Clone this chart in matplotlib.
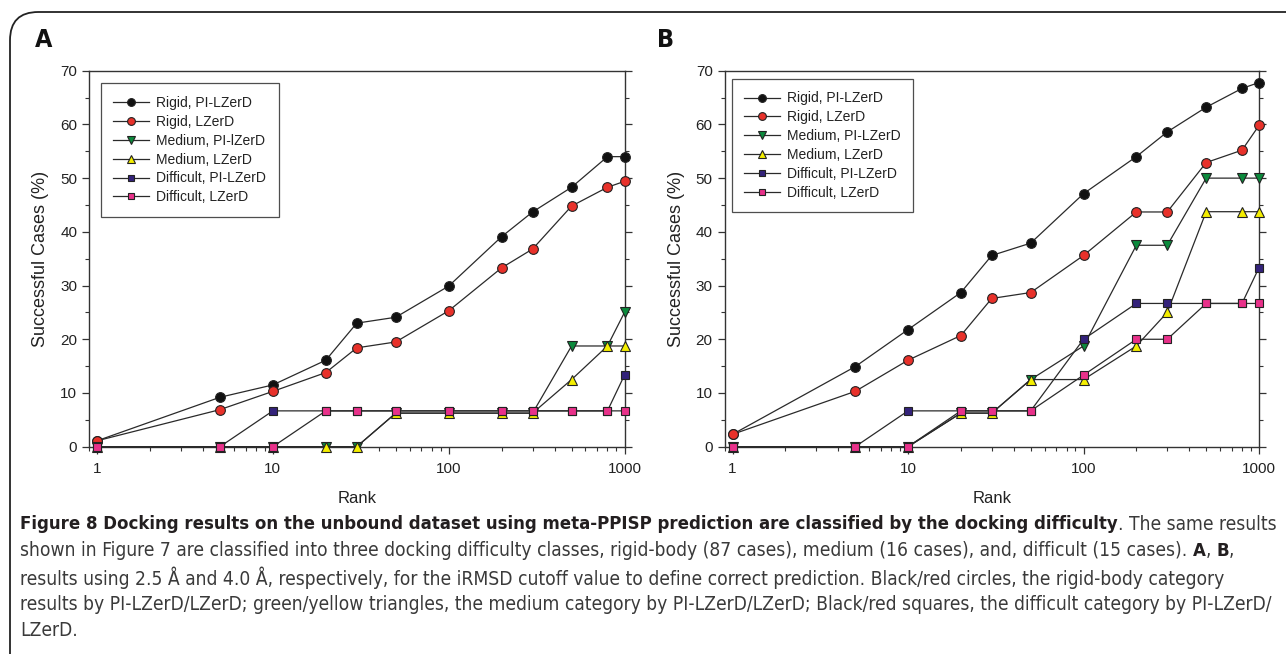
import os
import matplotlib
matplotlib.use("Agg")
import matplotlib.pyplot as plt
import matplotlib.font_manager as fm
from matplotlib.font_manager import FontProperties
from matplotlib.patches import FancyBboxPatch
from matplotlib.ticker import LogLocator, NullFormatter, MultipleLocator, FixedLocator, FixedFormatter

# ---------------- data ----------------
ranks = [1, 5, 10, 20, 30, 50, 100, 200, 300, 500, 800, 1000]

series_labels_a = ["Rigid, PI-LZerD", "Rigid, LZerD", "Medium, PI-lZerD",
                   "Medium, LZerD", "Difficult, PI-LZerD", "Difficult, LZerD"]
series_labels_b = ["Rigid, PI-LZerD", "Rigid, LZerD", "Medium, PI-LZerD",
                   "Medium, LZerD", "Difficult, PI-LZerD", "Difficult, LZerD"]

a_rigid_pi = [1.1, 9.2, 11.5, 16.1, 23.0, 24.1, 29.9, 39.1, 43.7, 48.3, 54.0, 54.0]
a_rigid_lz = [1.1, 6.9, 10.3, 13.8, 18.4, 19.5, 25.3, 33.3, 36.8, 44.8, 48.3, 49.4]
a_med_pi = [0, 0, 0, 0, 0, 6.25, 6.25, 6.25, 6.25, 18.75, 18.75, 25.0]
a_med_lz = [0, 0, 0, 0, 0, 6.25, 6.25, 6.25, 6.25, 12.5, 18.75, 18.75]
a_diff_pi = [0, 0, 6.67, 6.67, 6.67, 6.67, 6.67, 6.67, 6.67, 6.67, 6.67, 13.33]
a_diff_lz = [0, 0, 0, 6.67, 6.67, 6.67, 6.67, 6.67, 6.67, 6.67, 6.67, 6.67]

b_rigid_pi = [2.3, 14.9, 21.8, 28.7, 35.6, 37.9, 47.1, 54.0, 58.6, 63.2, 66.7, 67.8]
b_rigid_lz = [2.3, 10.3, 16.1, 20.7, 27.6, 28.7, 35.6, 43.7, 43.7, 52.9, 55.2, 59.8]
b_med_pi = [0, 0, 0, 6.25, 6.25, 12.5, 18.75, 37.5, 37.5, 50.0, 50.0, 50.0]
b_med_lz = [0, 0, 0, 6.25, 6.25, 12.5, 12.5, 18.75, 25.0, 43.75, 43.75, 43.75]
b_diff_pi = [0, 0, 6.67, 6.67, 6.67, 6.67, 20.0, 26.67, 26.67, 26.67, 26.67, 33.33]
b_diff_lz = [0, 0, 0, 6.67, 6.67, 6.67, 13.33, 20.0, 20.0, 26.67, 26.67, 26.67]

x_ticks = [1, 10, 100, 1000]
x_ticklabels = ["1", "10", "100", "1000"]
y_ticks = [0, 10, 20, 30, 40, 50, 60, 70]

caption_lines = [
    [("Figure 8 Docking results on the unbound dataset using meta-PPISP prediction are classified by the docking difficulty", True),
     (". The same results", False)],
    [("shown in Figure 7 are classified into three docking difficulty classes, rigid-body (87 cases), medium (16 cases), and, difficult (15 cases). ", False),
     ("A", True), (", ", False), ("B", True), (",", False)],
    [("results using 2.5 \u00c5 and 4.0 \u00c5, respectively, for the iRMSD cutoff value to define correct prediction. Black/red circles, the rigid-body category", False)],
    [("results by PI-LZerD/LZerD; green/yellow triangles, the medium category by PI-LZerD/LZerD; Black/red squares, the difficult category by PI-LZerD/", False)],
    [("LZerD.", False)],
]

# ---------------- styles ----------------
styles = [
    dict(marker="o", color="#111111", ms=7.0),
    dict(marker="o", color="#e8312a", ms=7.0),
    dict(marker="v", color="#0b8a3c", ms=7.0),
    dict(marker="^", color="#f4ee00", ms=7.0),
    dict(marker="s", color="#33227a", ms=6.2),
    dict(marker="s", color="#e8318a", ms=6.2),
]

names = {f.name for f in fm.fontManager.ttflist}
chart_font = "Liberation Sans" if "Liberation Sans" in names else "DejaVu Sans"
plt.rcParams["font.family"] = [chart_font, "DejaVu Sans"]


# ---- find a condensed font for the caption (real text, just a narrower face) ----
def find_condensed():
    files = sorted({f.fname for f in fm.fontManager.ttflist})
    bad = ("mono", "serif", "italic", "oblique", "display", "ui", "cjk", "symbol")
    cand = []
    for p in files:
        b = os.path.basename(p).lower()
        if not ("condensed" in b or "narrow" in b):
            continue
        if any(k in b for k in bad):
            continue
        if "semicondensed" in b or "extracondensed" in b or "semi" in b.split("condensed")[0]:
            continue
        cand.append(p)
    prefs = ["notosans", "opensans", "liberationsans", "dejavusans", "roboto", "lato", ""]
    for pref in prefs:
        reg = bold = None
        for p in cand:
            b = os.path.basename(p).lower().replace("-", "").replace("_", "").replace(" ", "")
            if not b.startswith(pref):
                continue
            rest = b.replace("condensed", "").replace("narrow", "")
            heavy = any(k in rest for k in ("light", "thin", "black", "medium", "semi", "extra", "heavy"))
            if "bold" in rest:
                if not heavy and bold is None:
                    bold = p
            elif not heavy and reg is None:
                reg = p
        if reg and bold:
            return reg, bold
    return None, None


reg_file, bold_file = find_condensed()


def cap_fp(bold, size):
    if reg_file:
        return FontProperties(fname=bold_file if bold else reg_file, size=size)
    fam = "Lato" if "Lato" in names else "DejaVu Sans"
    return FontProperties(family=fam, weight="bold" if bold else "normal", size=size)


W, H = 1286, 654
fig = plt.figure(figsize=(W / 100, H / 100), dpi=100)

# rounded frame (top-left corner visible, extends beyond right/bottom)
frame = FancyBboxPatch((10 / W, -0.2), 1.3, (H - 12) / H + 0.2,
                       boxstyle="round,pad=0,rounding_size=0.022",
                       transform=fig.transFigure, fill=False,
                       edgecolor="#222222", linewidth=1.3, mutation_aspect=W / H)
fig.patches.append(frame)


def draw_panel(rect, data, labels, leg_anchor):
    ax = fig.add_axes(rect)
    for vals, st, lab in zip(data, styles, labels):
        ax.plot(ranks, vals, color="#2a2a2a", lw=0.9, marker=st["marker"],
                markersize=st["ms"], markerfacecolor=st["color"],
                markeredgecolor="#222222", markeredgewidth=0.8,
                label=lab, clip_on=False, zorder=3)
    ax.set_xscale("log")
    ax.set_xlim(0.9, 1000)
    ax.set_ylim(0, 70)
    ax.xaxis.set_major_locator(FixedLocator(x_ticks))
    ax.xaxis.set_major_formatter(FixedFormatter(x_ticklabels))
    ax.xaxis.set_minor_locator(LogLocator(base=10, subs=range(2, 10)))
    ax.xaxis.set_minor_formatter(NullFormatter())
    ax.yaxis.set_major_locator(FixedLocator(y_ticks))
    ax.yaxis.set_minor_locator(MultipleLocator(5))
    ax.tick_params(axis="both", which="major", direction="out", length=5,
                   width=0.9, colors="#333333", labelsize=11, labelcolor="#222222")
    ax.tick_params(axis="both", which="minor", direction="out", length=3,
                   width=0.8, colors="#333333")
    ax.tick_params(axis="y", which="both", right=True, left=True)
    ax.tick_params(axis="x", which="major", pad=6)
    for sp in ax.spines.values():
        sp.set_color("#333333")
        sp.set_linewidth(1.0)
    ax.set_xlabel("Rank", fontsize=12, color="#222222", labelpad=11)
    ax.set_ylabel("Successful Cases (%)", fontsize=13, color="#222222", labelpad=8)
    leg = ax.legend(loc="upper left", bbox_to_anchor=leg_anchor, borderaxespad=0,
                    fontsize=10, frameon=True, fancybox=False, edgecolor="#222222",
                    handlelength=2.6, handletextpad=0.5, labelspacing=0.35,
                    borderpad=0.9, markerscale=0.8)
    leg.get_frame().set_linewidth(0.9)
    for t in leg.get_texts():
        t.set_color("#222222")
    return ax


axA = draw_panel([89 / W, 1 - 446.7 / H, 535.5 / W, 376 / H],
                 [a_rigid_pi, a_rigid_lz, a_med_pi, a_med_lz, a_diff_pi, a_diff_lz],
                 series_labels_a, (0.022, 0.966))
axB = draw_panel([724.5 / W, 1 - 446.7 / H, 534.5 / W, 376 / H],
                 [b_rigid_pi, b_rigid_lz, b_med_pi, b_med_lz, b_diff_pi, b_diff_lz],
                 series_labels_b, (0.0135, 0.978))

fig.text(35 / W, 1 - 40 / H, "A", fontproperties=cap_fp(True, 18),
         va="center", ha="left", color="#111111")
fig.text(657 / W, 1 - 40 / H, "B", fontproperties=cap_fp(True, 18),
         va="center", ha="left", color="#111111")

# ---------------- caption ----------------
renderer = fig.canvas.get_renderer()


def seg_width(txt, bold, size):
    t = fig.text(0, 0, txt, fontproperties=cap_fp(bold, size))
    w = t.get_window_extent(renderer).width
    t.remove()
    return w


ref_size = 12.0
# normal-weight size: line 4 spans x=20..1276
w4 = sum(seg_width(s, b, ref_size) for s, b in caption_lines[3])
size_n = ref_size * (1254.0 / w4)
# bold size: line 1 (bold part + normal tail) spans x=20..1276
tail = sum(seg_width(s, b, size_n) for s, b in caption_lines[0] if not b)
wb = sum(seg_width(s, b, ref_size) for s, b in caption_lines[0] if b)
size_b = ref_size * ((1256.0 - tail) / wb)

x0 = 20
y_lines = [524, 551, 578, 604, 630]
for line, yp in zip(caption_lines, y_lines):
    x = x0
    for s, b in line:
        t = fig.text(x / W, 1 - yp / H, s, fontproperties=cap_fp(b, size_b if b else size_n),
                     va="center", ha="left",
                     color="#231f20" if b else "#3a3a3a")
        x += t.get_window_extent(renderer).width

fig.savefig("out.png", dpi=100)
